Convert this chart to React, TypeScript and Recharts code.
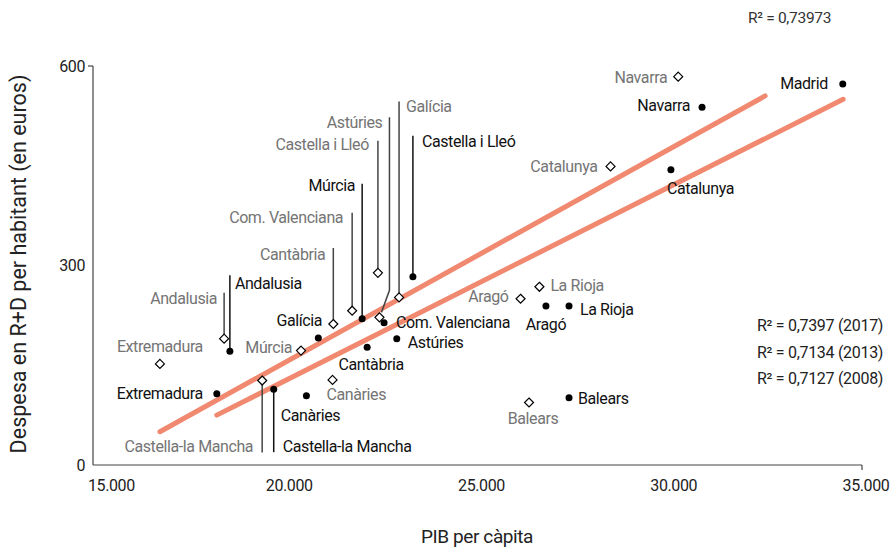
import React from "react";
import {
  ScatterChart,
  Scatter,
  XAxis,
  YAxis,
  ReferenceLine,
} from "recharts";

// Regions, 2017 (filled dots)
const REGIONS_2017 = [
  "Madrid", "Navarra", "Catalunya", "La Rioja", "Aragó", "Balears",
  "Castella i Lleó", "Múrcia", "Com. Valenciana", "Astúries", "Cantàbria",
  "Galícia", "Andalusia", "Extremadura", "Castella-la Mancha", "Canàries",
];
const PIB_2017 = [
  34500, 30840, 30030, 27380, 26780, 27380,
  23320, 22000, 22570, 22900, 22130,
  20860, 18560, 18220, 19700, 20550,
];
const RD_2017 = [
  573, 538, 444, 239, 239, 101,
  283, 220, 214, 190, 177,
  191, 171, 107, 114, 104,
];

// Regions, 2008 (open diamonds)
const REGIONS_2008 = [
  "Navarra", "Catalunya", "La Rioja", "Aragó", "Balears",
  "Galícia", "Astúries", "Castella i Lleó", "Com. Valenciana", "Cantàbria",
  "Múrcia", "Andalusia", "Extremadura", "Castella-la Mancha", "Canàries",
];
const PIB_2008 = [
  30220, 28460, 26610, 26120, 26340,
  22960, 22450, 22410, 21740, 21250,
  20410, 18410, 16740, 19400, 21230,
];
const RD_2008 = [
  584, 449, 268, 250, 94,
  252, 222, 289, 232, 212,
  172, 190, 152, 127, 128,
];

// trend lines (start / end points)
const TREND_A = [
  { x: 16740, y: 50 },
  { x: 32480, y: 555 },
];
const TREND_B = [
  { x: 18220, y: 75 },
  { x: 34510, y: 550 },
];

const X_TICKS = [15000, 20000, 25000, 30000, 35000];
const Y_TICKS = [0, 300, 600];

const R2_TOP = "R² = 0,73973";
const R2_LINES = ["R² = 0,7397 (2017)", "R² = 0,7134 (2013)", "R² = 0,7127 (2008)"];

const data2017 = REGIONS_2017.map((name, i) => ({ name, x: PIB_2017[i], y: RD_2017[i] }));
const data2008 = REGIONS_2008.map((name, i) => ({ name, x: PIB_2008[i], y: RD_2008[i] }));

type Layout = {
  dx: number;
  dy: number;
  anchor: "start" | "middle" | "end";
  path?: [number, number][];
};

// label placement relative to the marker
const DOT_LABELS: Record<string, Layout> = {
  Madrid: { dx: -15, dy: 0, anchor: "end" },
  Navarra: { dx: -12, dy: -2, anchor: "end" },
  Catalunya: { dx: -4, dy: 19, anchor: "start" },
  "La Rioja": { dx: 11, dy: 3, anchor: "start" },
  Aragó: { dx: 0, dy: 18, anchor: "middle" },
  Balears: { dx: 9, dy: 1, anchor: "start" },
  "Castella i Lleó": { dx: 9, dy: -135, anchor: "start", path: [[0, 0], [0, -141]] },
  Múrcia: { dx: -7, dy: -133, anchor: "end", path: [[0, 0], [0, -135]] },
  "Com. Valenciana": { dx: 12, dy: 0, anchor: "start" },
  Astúries: { dx: 11, dy: 4, anchor: "start" },
  Cantàbria: { dx: 4, dy: 17, anchor: "middle" },
  Galícia: { dx: -19, dy: -17, anchor: "middle" },
  Andalusia: { dx: 5, dy: -68, anchor: "start", path: [[0, 0], [0, -76]] },
  Extremadura: { dx: -14, dy: 0, anchor: "end" },
  "Castella-la Mancha": { dx: 9, dy: 57, anchor: "start", path: [[0, 0], [0, 63]] },
  Canàries: { dx: 4, dy: 20, anchor: "middle" },
};

const DIAMOND_LABELS: Record<string, Layout> = {
  Navarra: { dx: -11, dy: 1, anchor: "end" },
  Catalunya: { dx: -13, dy: 0, anchor: "end" },
  "La Rioja": { dx: 11, dy: -1, anchor: "start" },
  Aragó: { dx: -12, dy: -2, anchor: "end" },
  Balears: { dx: 4, dy: 16, anchor: "middle" },
  Galícia: { dx: 7, dy: -191, anchor: "start", path: [[0, -4], [0, -196]] },
  Astúries: { dx: 3, dy: -195, anchor: "end", path: [[2, -5], [10, -27], [10, -200]] },
  "Castella i Lleó": { dx: -9, dy: -128, anchor: "end", path: [[0, -4], [0, -132]] },
  "Com. Valenciana": { dx: -9, dy: -93, anchor: "end", path: [[0, -4], [0, -98]] },
  Cantàbria: { dx: -8, dy: -70, anchor: "end", path: [[0, -4], [0, -76]] },
  Múrcia: { dx: -9, dy: -3, anchor: "end" },
  Andalusia: { dx: -7, dy: -40, anchor: "end", path: [[0, -4], [0, -46]] },
  Extremadura: { dx: 0, dy: -17, anchor: "middle" },
  "Castella-la Mancha": { dx: -9, dy: 66, anchor: "end", path: [[0, 4], [0, 72]] },
  Canàries: { dx: -6, dy: 15, anchor: "start" },
};

const FONT = "Roboto, 'Noto Sans', sans-serif";
const LABEL_SIZE = 16;
const LABEL_SPACING = -0.4;

function Leader({ cx, cy, path, color }: { cx: number; cy: number; path?: [number, number][]; color: string }) {
  if (!path) return null;
  const pts = path.map(([px, py]) => `${cx + px},${cy + py}`).join(" ");
  return <polyline points={pts} fill="none" stroke={color} strokeWidth={1.5} />;
}

function DotShape(props: any) {
  const { cx, cy, payload } = props;
  const lay = DOT_LABELS[payload.name];
  return (
    <g>
      <Leader cx={cx} cy={cy} path={lay?.path} color="#111" />
      <circle cx={cx} cy={cy} r={3.5} fill="#000" />
      {lay && (
        <text
          x={cx + lay.dx}
          y={cy + lay.dy}
          textAnchor={lay.anchor}
          dominantBaseline="central"
          fontFamily={FONT}
          fontSize={LABEL_SIZE}
          letterSpacing={LABEL_SPACING}
          fill="#111"
        >
          {payload.name}
        </text>
      )}
    </g>
  );
}

function DiamondShape(props: any) {
  const { cx, cy, payload } = props;
  const lay = DIAMOND_LABELS[payload.name];
  const s = 4.5;
  return (
    <g>
      <Leader cx={cx} cy={cy} path={lay?.path} color="#444" />
      <polygon
        points={`${cx},${cy - s} ${cx + s},${cy} ${cx},${cy + s} ${cx - s},${cy}`}
        fill="#fff"
        stroke="#000"
        strokeWidth={1.2}
      />
      {lay && (
        <text
          x={cx + lay.dx}
          y={cy + lay.dy}
          textAnchor={lay.anchor}
          dominantBaseline="central"
          fontFamily={FONT}
          fontSize={LABEL_SIZE}
          letterSpacing={LABEL_SPACING}
          fill="#747474"
        >
          {payload.name}
        </text>
      )}
    </g>
  );
}

const fmt = (v: number) => String(v).replace(/\B(?=(\d{3})+(?!\d))/g, ".");

function XTick(props: any) {
  const { x, y, payload, index } = props;
  const first = index === 0;
  const last = payload.value === 35000;
  return (
    <g>
      {last && <line x1={x} y1={y - 8} x2={x} y2={y - 3} stroke="#444" strokeWidth={1.2} />}
      <text
        x={first ? x - 5 : x + 4}
        y={y + 12}
        textAnchor={first ? "start" : "middle"}
        dominantBaseline="central"
        fontFamily={FONT}
        fontSize={16}
        letterSpacing={LABEL_SPACING}
        fill="#222"
      >
        {fmt(payload.value)}
      </text>
    </g>
  );
}

function YTick(props: any) {
  const { x, y, payload } = props;
  const top = payload.value === 600;
  return (
    <g>
      {top && <line x1={x + 3} y1={y} x2={x + 8} y2={y} stroke="#444" strokeWidth={1.2} />}
      <text
        x={x}
        y={y}
        textAnchor="end"
        dominantBaseline="central"
        fontFamily={FONT}
        fontSize={16}
        letterSpacing={LABEL_SPACING}
        fill="#222"
      >
        {payload.value}
      </text>
    </g>
  );
}

export default function App() {
  return (
    <div style={{ position: "absolute", left: 0, top: 0, width: 890, height: 547, background: "#fff", fontFamily: FONT }}>
      <ScatterChart width={890} height={547} margin={{ top: 66, right: 28, bottom: 52, left: 53 }}>
        <XAxis
          type="number"
          dataKey="x"
          domain={[15000, 35000]}
          ticks={X_TICKS}
          tick={<XTick />}
          tickLine={false}
          axisLine={{ stroke: "#444", strokeWidth: 1.2 }}
          height={30}
          interval={0}
        />
        <YAxis
          type="number"
          dataKey="y"
          domain={[0, 600]}
          ticks={Y_TICKS}
          tick={<YTick />}
          tickLine={false}
          axisLine={{ stroke: "#444", strokeWidth: 1.2 }}
          width={40}
          interval={0}
        />
        <ReferenceLine
          segment={TREND_A}
          stroke="#F0896F"
          strokeWidth={5}
          strokeLinecap="round"
          ifOverflow="visible"
        />
        <ReferenceLine
          segment={TREND_B}
          stroke="#F0896F"
          strokeWidth={5}
          strokeLinecap="round"
          ifOverflow="visible"
        />
        <Scatter data={data2008} shape={<DiamondShape />} isAnimationActive={false} />
        <Scatter data={data2017} shape={<DotShape />} isAnimationActive={false} />
      </ScatterChart>

      <div style={{ position: "absolute", left: 748, top: 9, fontSize: 15.5, letterSpacing: -0.3, color: "#333" }}>{R2_TOP}</div>
      {R2_LINES.map((t, i) => (
        <div
          key={t}
          style={{
            position: "absolute",
            left: 757,
            top: 316 + i * 26.5,
            fontSize: 16,
            letterSpacing: -0.3,
            color: "#222",
            whiteSpace: "nowrap",
          }}
        >
          {t}
        </div>
      ))}
      <div style={{ position: "absolute", left: 0, width: 954, top: 525, textAlign: "center", fontSize: 19, letterSpacing: -0.4, color: "#222" }}>
        PIB per càpita
      </div>
      <div
        style={{
          position: "absolute",
          left: 18,
          top: 264,
          transform: "translate(-50%, -50%) rotate(-90deg)",
          fontSize: 21.5,
          color: "#222",
          whiteSpace: "nowrap",
        }}
      >
        Despesa en R+D per habitant (en euros)
      </div>
    </div>
  );
}
